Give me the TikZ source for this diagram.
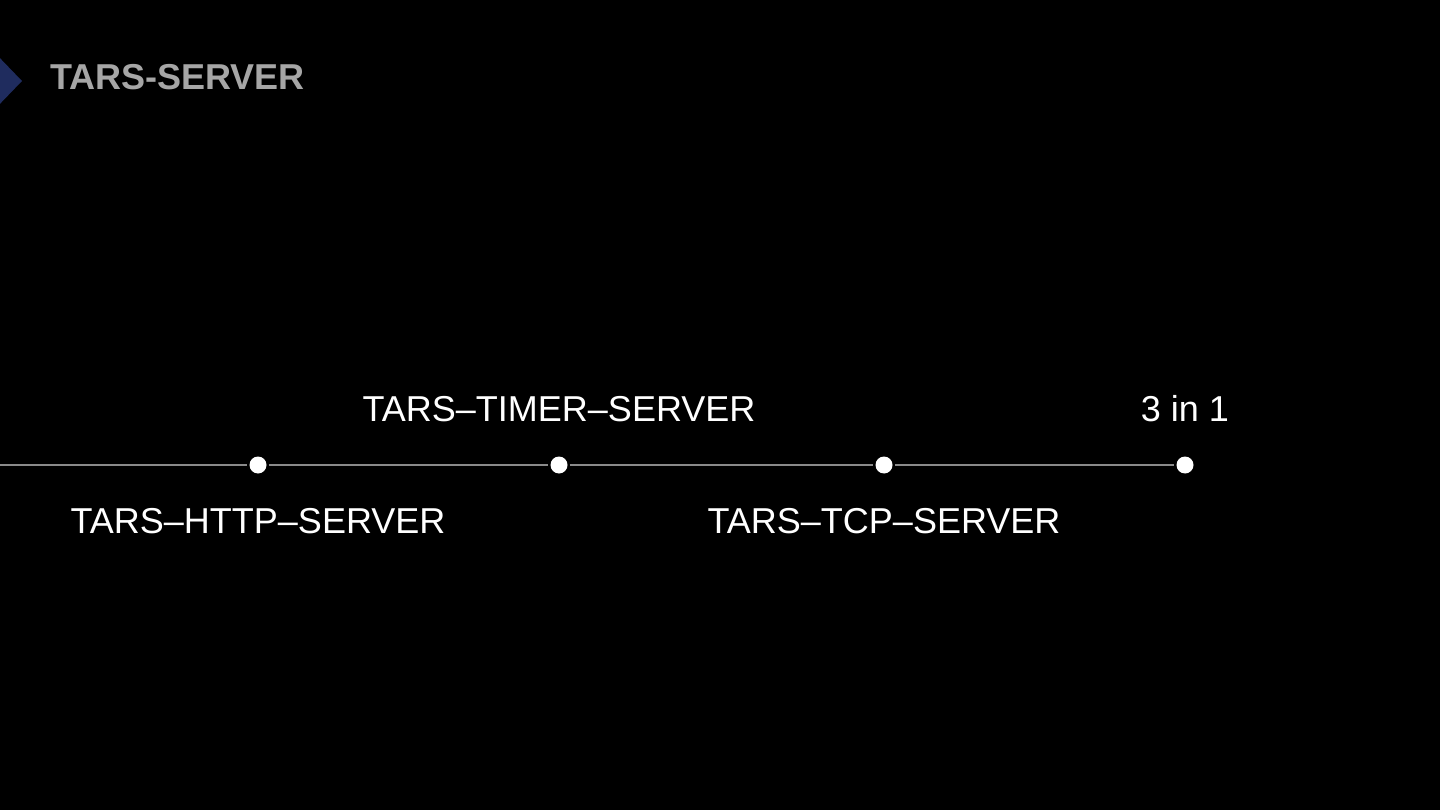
\documentclass[tikz,border=0pt]{standalone}
\usepackage{fontspec}
\setmainfont{Liberation Sans}
\usepackage{xcolor}
\usetikzlibrary{positioning}
\definecolor{linegray}{HTML}{8A8A8A}
\definecolor{titlegray}{HTML}{A6A6A6}
\definecolor{chevblue}{HTML}{1F2C5E}
\tikzstyle{dot} = [circle, fill=white, inner sep=0pt, minimum size=17pt]
\tikzstyle{stage} = [text=white, inner sep=0pt, font=\fontsize{36}{42}\selectfont]
\tikzstyle{link} = [draw=linegray, line width=2pt, shorten <=2pt, shorten >=2pt]

\begin{document}
\begin{tikzpicture}[x=1pt, y=-1pt, node distance=56pt]
    \useasboundingbox (0,0) rectangle (1440,810);
    \fill [black] (-5,-5) rectangle (1445,815);
    \fill [chevblue] (-5,53) -- (22,81) -- (-5,109) -- cycle;
    \node (title) [anchor=west, inner sep=0pt, text=titlegray, font=\fontsize{36}{42}\selectfont\bfseries] at (50,77) {TARS-SERVER};

    \coordinate (start) at (-5,465);
    \node (d1) [dot] at (258,465) {};
    \node (d2) [dot] at (559,465) {};
    \node (d3) [dot] at (884,465) {};
    \node (d4) [dot] at (1185,465) {};

    \node (http) [stage, below of=d1] {TARS–HTTP–SERVER};
    \node (timer) [stage, above of=d2] {TARS–TIMER–SERVER};
    \node (tcp) [stage, below of=d3] {TARS–TCP–SERVER};
    \node (all) [stage, above of=d4] {3 in 1};

    \draw [link, shorten <=0pt] (start) -- (d1);
    \draw [link] (d1) -- (d2);
    \draw [link] (d2) -- (d3);
    \draw [link] (d3) -- (d4);
\end{tikzpicture}
\end{document}
